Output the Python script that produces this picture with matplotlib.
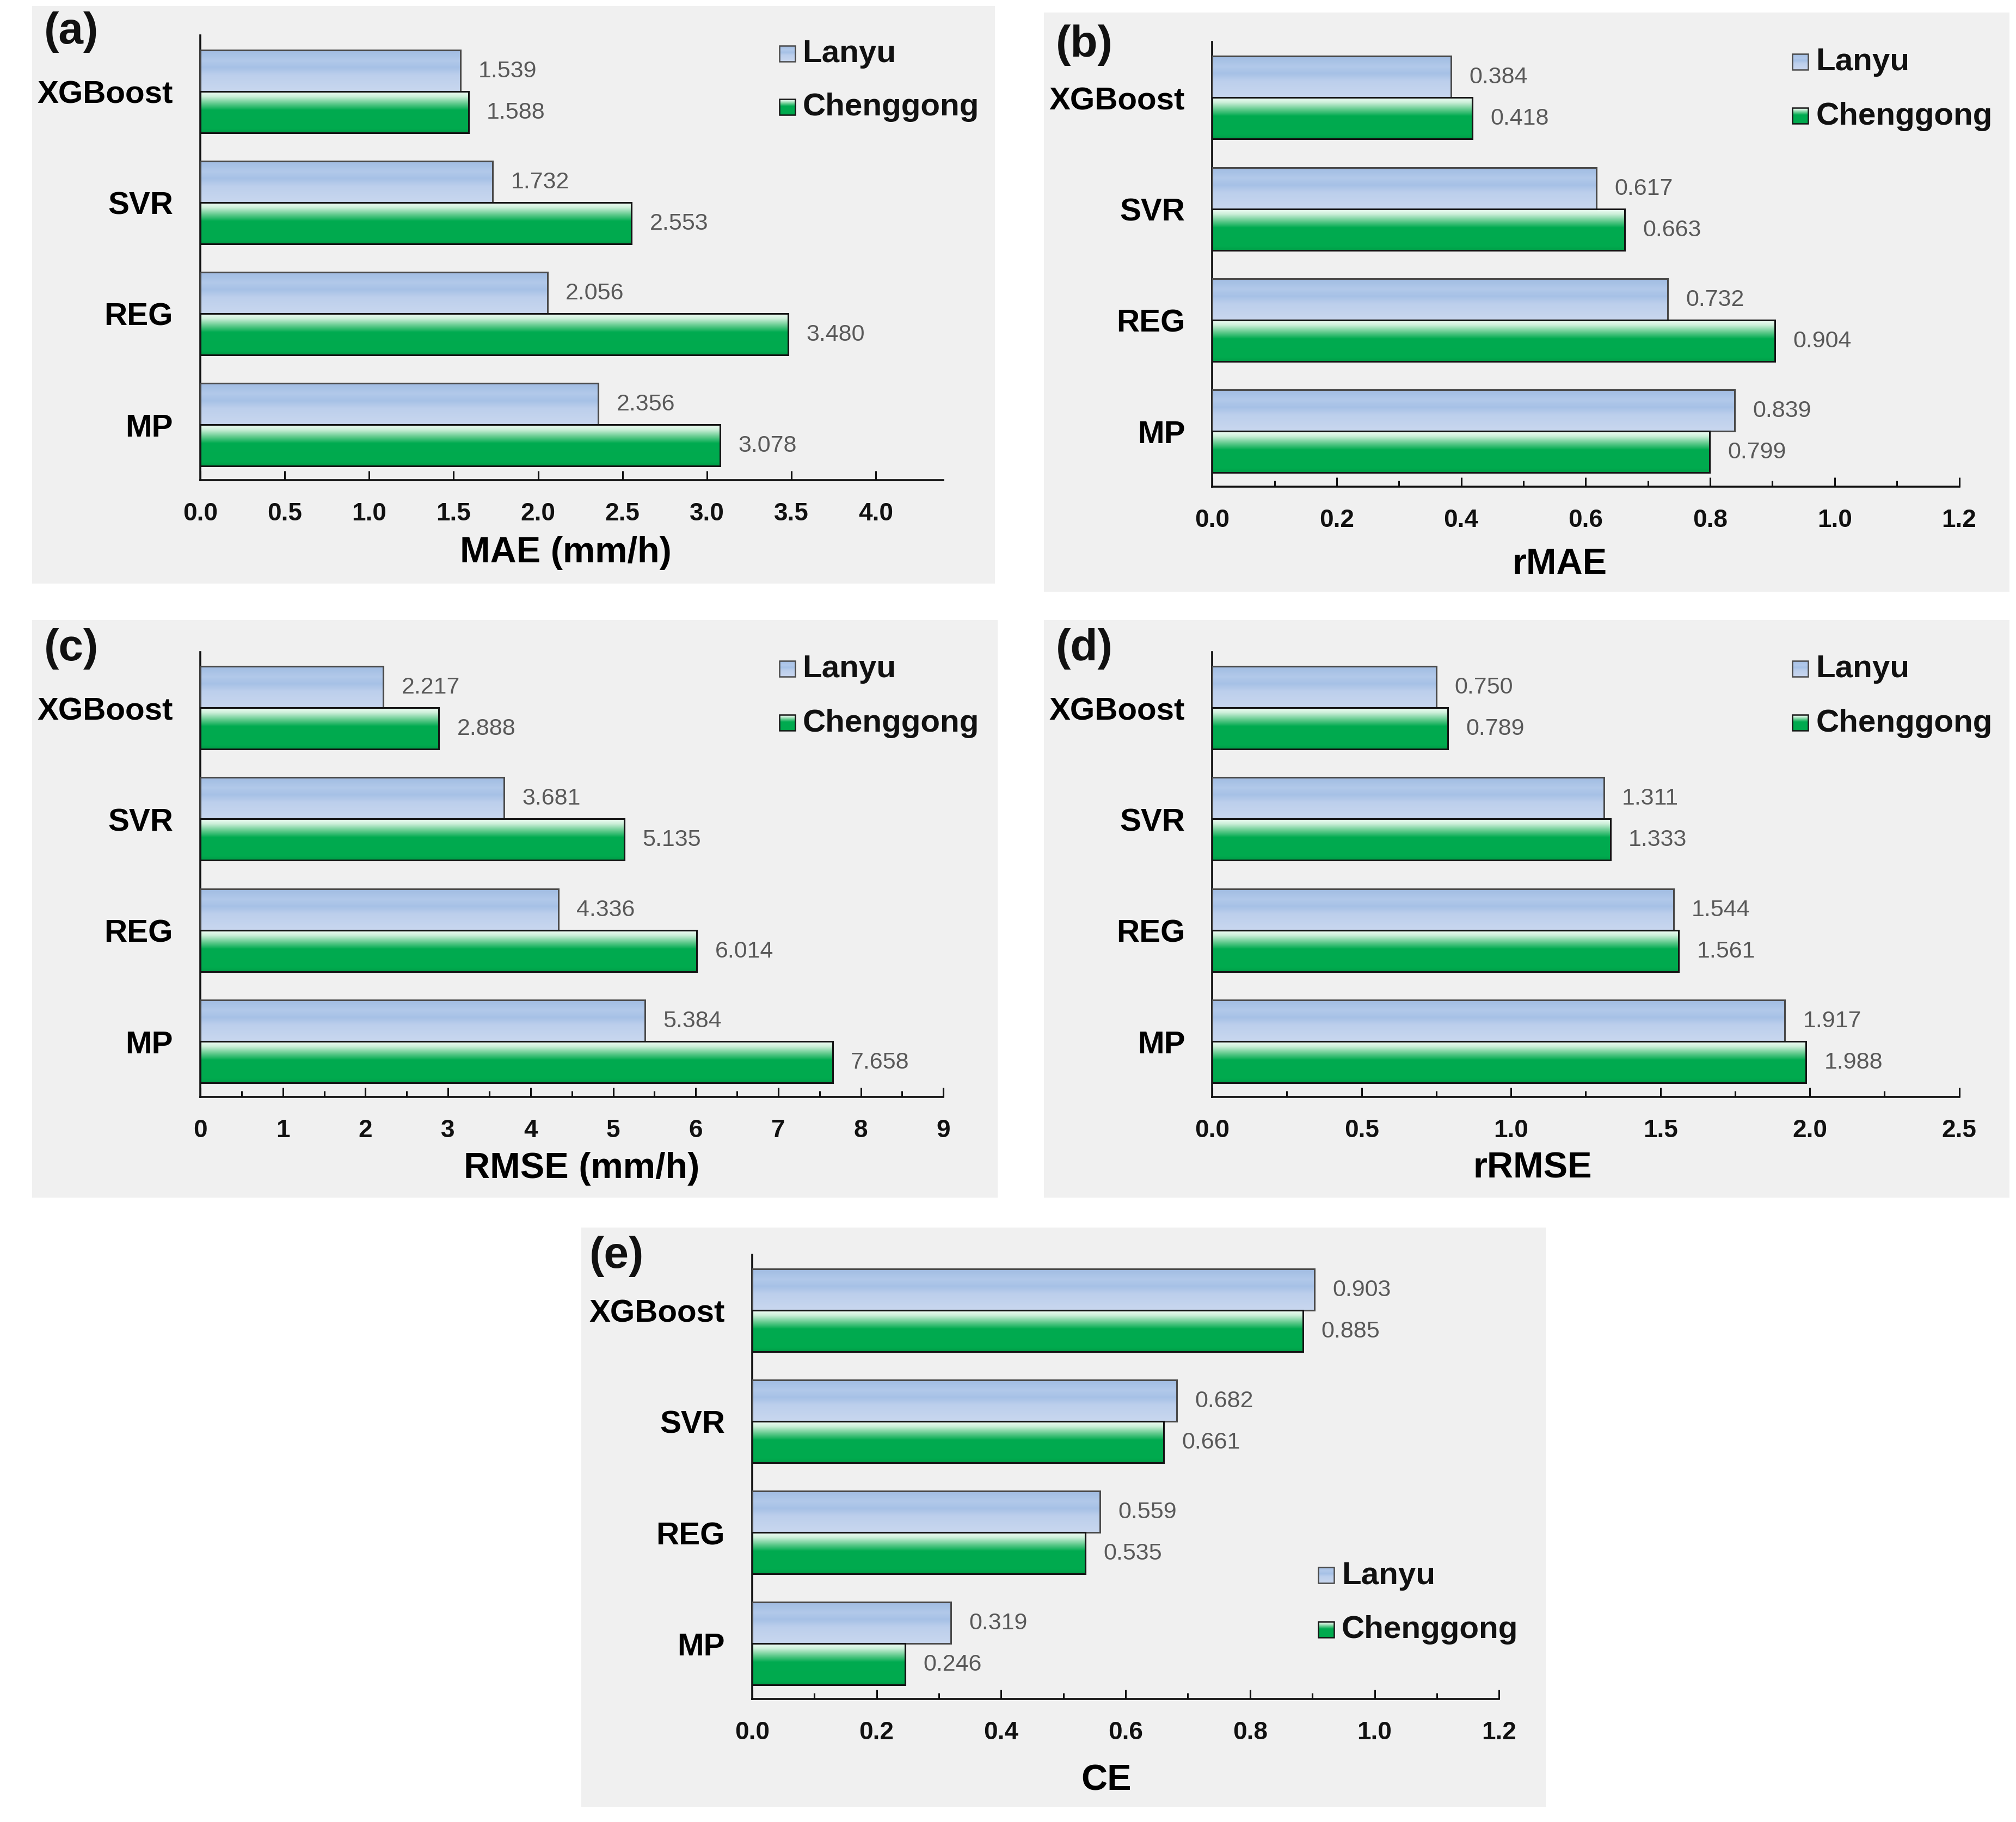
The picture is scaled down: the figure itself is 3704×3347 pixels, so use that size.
import numpy as np
import matplotlib
matplotlib.use("Agg")
import matplotlib.pyplot as plt
from matplotlib.patches import Rectangle
from matplotlib.colors import to_rgb

plt.rcParams['font.family'] = ['Liberation Sans', 'DejaVu Sans']

# ---------------- data ----------------
models = ["XGBoost", "SVR", "REG", "MP"]
series = ["Lanyu", "Chenggong"]

mae_lanyu = [1.539, 1.732, 2.056, 2.356]
mae_cheng = [1.588, 2.553, 3.480, 3.078]
rmae_lanyu = [0.384, 0.617, 0.732, 0.839]
rmae_cheng = [0.418, 0.663, 0.904, 0.799]
rmse_lanyu = [2.217, 3.681, 4.336, 5.384]
rmse_cheng = [2.888, 5.135, 6.014, 7.658]
rrmse_lanyu = [0.750, 1.311, 1.544, 1.917]
rrmse_cheng = [0.789, 1.333, 1.561, 1.988]
ce_lanyu = [0.903, 0.682, 0.559, 0.319]
ce_cheng = [0.885, 0.661, 0.535, 0.246]

xlabels = ["MAE (mm/h)", "rMAE", "RMSE (mm/h)", "rRMSE", "CE"]
panel_tags = ["(a)", "(b)", "(c)", "(d)", "(e)"]
xticks_major = [np.arange(0, 4.01, 0.5), np.arange(0, 1.21, 0.2), np.arange(0, 9.1, 1),
                np.arange(0, 2.51, 0.5), np.arange(0, 1.21, 0.2)]
xtick_fmt = ["{:.1f}", "{:.1f}", "{:.0f}", "{:.1f}", "{:.1f}"]
xminor_step = [None, 0.1, 0.5, 0.25, 0.1]
xlims = [(0, 4.4), (0, 1.2), (0, 9), (0, 2.5), (0, 1.2)]

# ---------------- layout ----------------
W, H = 3704, 3348
fig = plt.figure(figsize=(W / 100, H / 100), dpi=100)
fig.patch.set_facecolor("white")

DW, DH = 1560.0, 1410.0  # layout reference grid

def fx(x):
    return x / DW

def fy(y):
    return 1 - y / DH

bg_boxes = [(25, 5, 770, 452), (808, 10, 1555, 458), (25, 480, 772, 927),
            (808, 480, 1555, 927), (450, 950, 1196, 1398)]
axes_boxes = [(155, 28, 730, 372), (938, 33, 1516, 377), (155, 505, 730, 849),
              (938, 505, 1516, 849), (582, 971, 1160, 1315)]
tag_pos = [(34, 25), (817, 35), (34, 502), (817, 502), (456, 972)]
legend_pos = [(0.779, 0.960, 0.840), (0.777, 0.956, 0.834), (0.779, 0.963, 0.841),
              (0.777, 0.963, 0.841), (0.758, 0.279, 0.157)]
xlabel_pos = [(0.492, -0.163), (0.465, -0.174), (0.513, -0.160), (0.429, -0.160), (0.474, -0.183)]

BG = "#F0F0F0"
for (x0, y0, x1, y1) in bg_boxes:
    fig.patches.append(Rectangle((fx(x0), fy(y1)), fx(x1) - fx(x0), fy(y0) - fy(y1),
                                 transform=fig.transFigure, facecolor=BG,
                                 edgecolor="none", zorder=-5))


def make_grad(stops, n=256):
    pos = np.array([s[0] for s in stops])
    cols = np.array([to_rgb(s[1]) for s in stops])
    t = np.linspace(0, 1, n)
    arr = np.zeros((n, 1, 3))
    for c in range(3):
        arr[:, 0, c] = np.interp(t, pos, cols[:, c])
    return arr

blue_grad = make_grad([(0.0, "#A0BCE2"), (0.25, "#B2C9EA"), (0.42, "#A6C1E6"),
                       (0.6, "#BCCFEC"), (1.0, "#C9D7EF")])
green_grad = make_grad([(0.0, "#F4FFF8"), (0.12, "#CCEFD9"), (0.3, "#5CC98A"),
                        (0.45, "#00AB50"), (0.9, "#00AA4E"), (1.0, "#009E48")])

datasets = [(mae_lanyu, mae_cheng), (rmae_lanyu, rmae_cheng), (rmse_lanyu, rmse_cheng),
            (rrmse_lanyu, rrmse_cheng), (ce_lanyu, ce_cheng)]

pos = np.arange(len(models))[::-1].astype(float)  # XGBoost at top
h = 0.372

for i, (lan, che) in enumerate(datasets):
    x0, y0, x1, y1 = axes_boxes[i]
    ax = fig.add_axes([fx(x0), fy(y1), fx(x1) - fx(x0), fy(y0) - fy(y1)])
    ax.set_facecolor("none")

    bars_l = ax.barh(pos, lan, height=h, align="edge", facecolor="none",
                     edgecolor="#4A4A4A", linewidth=2.2, zorder=3)
    bars_c = ax.barh(pos - h, che, height=h, align="edge", facecolor="none",
                     edgecolor="#151515", linewidth=2.2, zorder=3)
    for bars, grad in ((bars_l, blue_grad), (bars_c, green_grad)):
        for b in bars:
            bx, by, bw, bh = b.get_x(), b.get_y(), b.get_width(), b.get_height()
            ax.imshow(grad, extent=[bx, bx + bw, by, by + bh], aspect="auto",
                      origin="upper", interpolation="bilinear", zorder=2)
        for b in bars:
            v = b.get_width()
            ax.annotate(f"{v:.3f}", (b.get_x() + v, b.get_y() + b.get_height() / 2),
                        xytext=(24, 0), textcoords="offset points", ha="left", va="center",
                        fontsize=31, color="#595959")

    ax.set_xlim(*xlims[i])
    ax.set_ylim(-0.5, 3.5)

    for s in ("top", "right"):
        ax.spines[s].set_visible(False)
    for s in ("left", "bottom"):
        ax.spines[s].set_linewidth(2.6)
        ax.spines[s].set_color("#111111")

    ticks = xticks_major[i]
    ax.set_xticks(ticks, labels=[xtick_fmt[i].format(t) for t in ticks],
                  fontsize=33, fontweight="bold")
    if xminor_step[i] is not None:
        ax.set_xticks(np.arange(0, xlims[i][1] + 1e-9, xminor_step[i]), minor=True)
    ax.tick_params(axis="x", which="major", direction="in", length=12, width=2.2,
                   pad=28, colors="#111111")
    ax.tick_params(axis="x", which="minor", direction="in", length=8, width=2.2,
                   colors="#111111")
    ax.set_yticks(pos, labels=models, fontsize=42, fontweight="bold")
    ax.tick_params(axis="y", length=0, pad=36)

    ax.set_xlabel(xlabels[i], fontsize=48, fontweight="bold")
    ax.xaxis.set_label_coords(*xlabel_pos[i])
    ax.xaxis.label.set_va("center")

    # legend (manual, gradient squares)
    lx, ly1, ly2 = legend_pos[i]
    axw = (x1 - x0) / DW * W
    axh = (y1 - y0) / DH * H
    sq = 29.0
    sw, sh = sq / axw, sq / axh
    for (ly, grad, ec, name) in ((ly1, blue_grad, "#4A4A4A", series[0]),
                                 (ly2, green_grad, "#151515", series[1])):
        ax.imshow(grad, extent=[lx, lx + sw, ly - sh / 2, ly + sh / 2], aspect="auto",
                  origin="upper", transform=ax.transAxes, zorder=4, clip_on=False)
        ax.add_patch(Rectangle((lx, ly - sh / 2), sw, sh, transform=ax.transAxes,
                               facecolor="none", edgecolor=ec, linewidth=1.8,
                               zorder=5, clip_on=False))
        ax.text(lx + sw + 0.01, ly, name, transform=ax.transAxes, ha="left",
                va="center", fontsize=42, fontweight="bold", color="#111111")

    ax.set_xlim(*xlims[i])
    ax.set_ylim(-0.5, 3.5)

    tx, ty = tag_pos[i]
    fig.text(fx(tx), fy(ty), panel_tags[i], fontsize=59, fontweight="bold",
             ha="left", va="center", color="#111111")

fig.savefig("out.png", dpi=100, facecolor="white")
